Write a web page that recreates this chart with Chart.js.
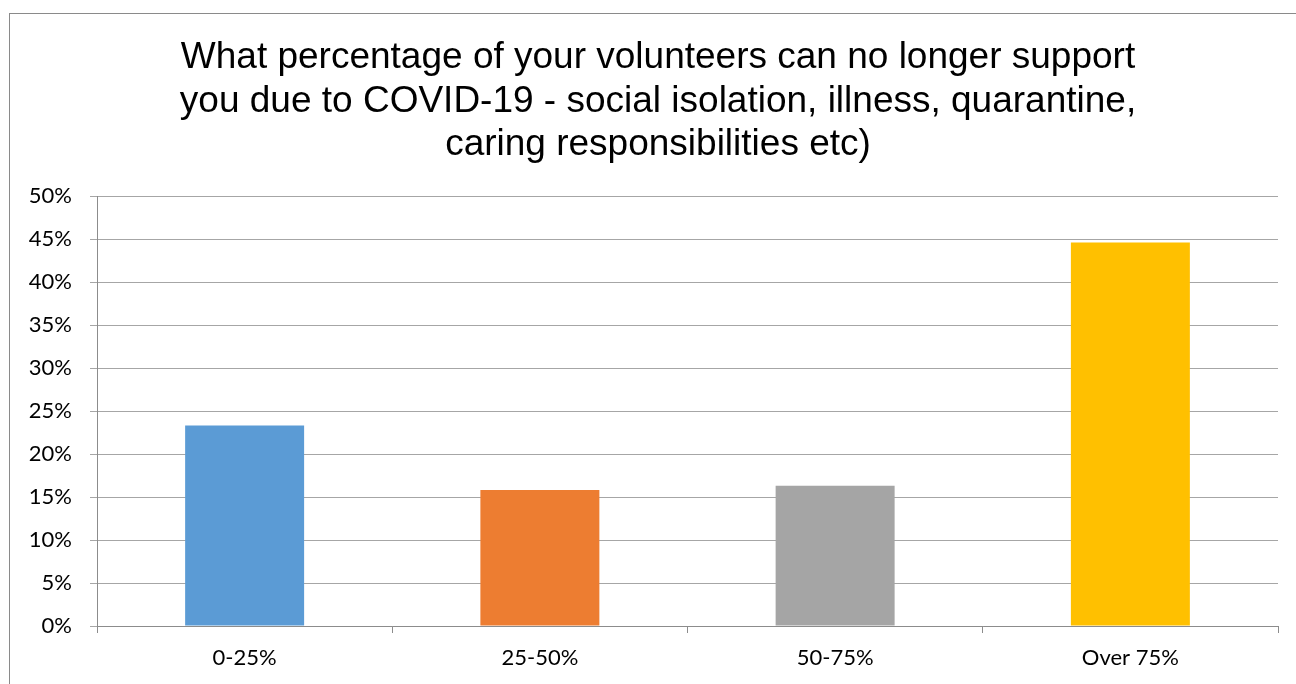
<!DOCTYPE html>
<html>
<head>
<meta charset="utf-8">
<script src="https://cdn.jsdelivr.net/npm/chart.js@4/dist/chart.umd.min.js"></script>
<style>
    html, body { margin: 0; padding: 0; background: #fff; overflow: hidden; }
    #marco {
        position: absolute; left: 9px; top: 13px; width: 1400px; height: 800px;
        border-left: 1px solid #8a8a8a; border-top: 1px solid #8a8a8a;
    }
    #wrap { position: absolute; left: 0; top: 0; width: 1296px; height: 684px; }
</style>
</head>
<body>
<div id="marco"></div>
<div id="wrap"><canvas id="voluntariosChart"></canvas></div>
<script>
// Datos de la encuesta
const categorias = ['0-25%', '25-50%', '50-75%', 'Over 75%'];
const porcentajes = [23.3, 15.8, 16.3, 44.6];
const colores = ['#5B9BD5', '#ED7D31', '#A5A5A5', '#FFC000'];
const marcasY = [0, 5, 10, 15, 20, 25, 30, 35, 40, 45, 50];
const titulo = [
    'What percentage of your volunteers can no longer support',
    'you due to COVID-19 - social isolation, illness, quarantine,',
    'caring responsibilities etc)'
];

const fuenteEjes = { family: 'Lato, "Open Sans", sans-serif', size: 22 };

// Título centrado sobre el área del gráfico (no sobre todo el lienzo)
const tituloCentrado = {
    id: 'tituloCentrado',
    afterDraw(chart) {
        const c = chart.ctx;
        c.save();
        c.fillStyle = '#000';
        c.font = '37px "Liberation Sans", Arial, sans-serif';
        c.textAlign = 'center';
        c.textBaseline = 'alphabetic';
        titulo.forEach((linea, i) => {
            c.fillText(linea, 658, 68 + i * 43.5);
        });
        c.restore();
    }
};

const ctx = document.getElementById('voluntariosChart').getContext('2d');
new Chart(ctx, {
    type: 'bar',
    data: {
        labels: categorias,
        datasets: [{
            data: porcentajes,
            backgroundColor: colores,
            categoryPercentage: 1,
            barPercentage: 0.403
        }]
    },
    plugins: [tituloCentrado],
    options: {
        responsive: true,
        maintainAspectRatio: false,
        animation: false,
        layout: { padding: { left: 0, right: 18, top: 196, bottom: 0 } },
        plugins: {
            legend: { display: false },
            tooltip: { enabled: false },
            title: { display: false }
        },
        scales: {
            x: {
                grid: {
                    offset: true,
                    drawOnChartArea: false,
                    drawTicks: true,
                    tickLength: 7,
                    color: '#8c8c8c'
                },
                border: { display: true, color: '#8c8c8c', width: 1 },
                ticks: { color: '#000', font: fuenteEjes, padding: 12 },
                afterFit: function(scale) { scale.height = 58; }
            },
            y: {
                min: 0,
                max: 50,
                afterBuildTicks: function(scale) {
                    scale.ticks = marcasY.map(v => ({ value: v }));
                },
                grid: {
                    color: '#a6a6a6',
                    lineWidth: 1,
                    tickLength: 7
                },
                border: { display: true, color: '#8c8c8c', width: 1 },
                ticks: {
                    color: '#000',
                    font: fuenteEjes,
                    padding: 18,
                    callback: function(value) { return value + '%'; }
                },
                afterFit: function(scale) { scale.width = 97; }
            }
        }
    }
});
</script>
</body>
</html>
